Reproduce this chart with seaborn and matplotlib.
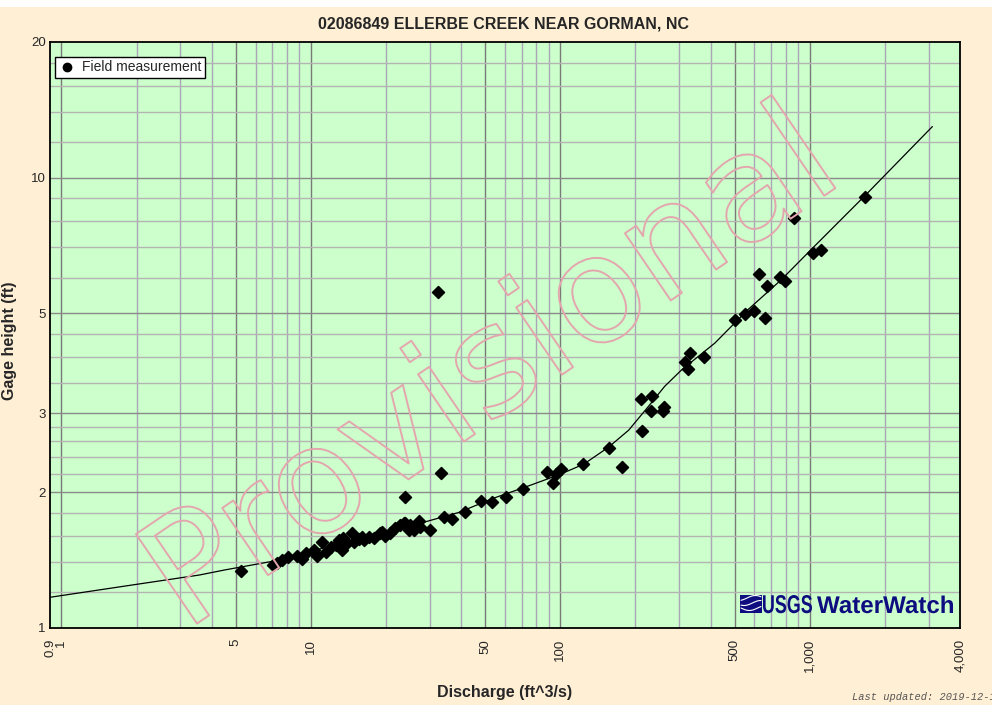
import numpy as np
import pandas as pd
import matplotlib
matplotlib.use("Agg")
import matplotlib.pyplot as plt
import matplotlib.patheffects as pe
import matplotlib.transforms as mtransforms
from matplotlib.lines import Line2D
from matplotlib.patches import Rectangle, PathPatch
from matplotlib.textpath import TextPath
from matplotlib.font_manager import FontProperties
from matplotlib.ticker import FixedLocator, NullFormatter, FixedFormatter
import seaborn as sns

sns.set_theme(style="white")
plt.rcParams['font.family'] = ['Liberation Sans', 'DejaVu Sans']

# ---------------- data ----------------
title = "02086849 ELLERBE CREEK NEAR GORMAN, NC"
x_label = "Discharge (ft^3/s)"
y_label = "Gage height (ft)"
legend_label = "Field measurement"
watermark = "Provisional"
updated = "Last updated: 2019-12-15"
logo_left = "USGS"
logo_right = "WaterWatch"

meas_discharge = [5.26, 7.05, 7.33, 7.68, 8.11, 8.81, 9.23, 9.52, 10.28, 10.6,
                  11.1, 11.45, 11.99, 12.56, 12.94, 13.34, 13.43, 13.97, 14.63, 14.86,
                  15.56, 16.04, 16.29, 17.06, 17.86, 19.0, 19.28, 19.89, 20.84, 21.82,
                  22.85, 23.55, 23.92, 24.66, 25.05, 25.82, 27.04, 27.47, 30.12, 34.04,
                  36.74, 41.57, 48.08, 53.46, 60.41, 70.66, 88.15, 93.16, 95.76, 100.3,
                  123.6, 23.92, 33.27, 32.21,
                  156.1, 177.0, 212.3, 211.5, 234.0, 231.8, 260.6, 258.2, 315.4, 324.3,
                  332.0, 377.7, 499.7, 548.0, 595.5, 662.5, 623.5, 674.8, 760.6, 792.0,
                  863.0, 1028.0, 1104.0, 1664.0]
meas_height = [1.339, 1.380, 1.397, 1.416, 1.440, 1.445, 1.421, 1.466, 1.491, 1.445,
               1.555, 1.478, 1.516, 1.529, 1.569, 1.491, 1.582, 1.543, 1.628, 1.555,
               1.575, 1.596, 1.569, 1.591, 1.582, 1.623, 1.637, 1.601, 1.623, 1.665,
               1.693, 1.709, 1.714, 1.651, 1.693, 1.651, 1.731, 1.679, 1.651, 1.767,
               1.747, 1.813, 1.915, 1.905, 1.958, 2.033, 2.225, 2.103, 2.196, 2.256,
               2.314, 1.958, 2.214, 5.58,
               2.516, 2.276, 2.744, 3.22, 3.27, 3.03, 3.09, 3.04, 3.89, 3.76,
               4.08, 3.99, 4.82, 4.98, 5.05, 4.87, 6.11, 5.75, 6.03, 5.88,
               8.14, 6.80, 6.89, 9.06]

curve_discharge = [0.9, 2.0, 3.57, 4.5, 6.9, 10, 15, 20, 27.5, 39, 54, 75, 99,
                   124, 156, 188, 225, 262, 306, 416, 565, 768, 1044, 1655, 3100]
curve_height = [1.17, 1.25, 1.311, 1.345, 1.404, 1.48, 1.568, 1.633, 1.709, 1.804,
                1.942, 2.07, 2.19, 2.31, 2.52, 2.75, 3.10, 3.44, 3.74, 4.29,
                5.09, 5.93, 7.04, 9.09, 12.98]

x_ticks = [0.9, 1, 5, 10, 50, 100, 500, 1000, 4000]
x_tick_labels = ["0.9", "1", "5", "10", "50", "100", "500", "1,000", "4,000"]
y_ticks = [1, 2, 3, 5, 10, 20]
y_tick_labels = ["1", "2", "3", "5", "10", "20"]

x_grid_mult = [1, 2, 3, 4, 5, 6, 7, 8, 9]
x_tick_mult = [1, 1.5, 2, 2.5, 3, 3.5, 4, 4.5, 5, 6, 7, 8, 9]
decades = [1, 10, 100, 1000]
y_grid = [1.2, 1.4, 1.6, 1.8, 2, 2.2, 2.4, 2.6, 2.8, 3, 3.5, 4, 4.5, 5,
          6, 7, 8, 9, 10, 12, 14, 16, 18]

meas = pd.DataFrame({"Q": meas_discharge, "H": meas_height})
curve = pd.DataFrame({"Q": curve_discharge, "H": curve_height})

# ---------------- figure ----------------
W, H = 992, 705
BG = "#ffefd5"
fig = plt.figure(figsize=(W / 100, H / 100), dpi=100, facecolor=BG)
fig.patches.append(Rectangle((0, 1 - 7 / H), 1, 7 / H, transform=fig.transFigure,
                             facecolor="white", edgecolor="none", zorder=0))
ax = fig.add_axes([50 / W, 1 - 628 / H, 910 / W, 586 / H])
ax.set_facecolor("#ccffcc")
ax.set_xscale("log")
ax.set_yscale("log")
ax.set_xlim(0.9, 4000)
ax.set_ylim(1, 20)

major_x = set([1, 5, 10, 50, 100, 500, 1000])
for d in decades:
    for m in x_grid_mult:
        v = d * m
        if v > 4000:
            continue
        if v in major_x:
            ax.axvline(v, color="#7a7a7a", lw=1.0, zorder=1)
        else:
            ax.axvline(v, color="#aaa6b6", lw=1.0, zorder=1)
for v in y_grid:
    if v in (2, 3, 5, 10):
        ax.axhline(v, color="#8a8a8a", lw=1.0, zorder=1)
    else:
        ax.axhline(v, color="#b4b4b4", lw=1.0, zorder=1)

sns.lineplot(data=curve, x="Q", y="H", ax=ax, color="black", lw=0.9,
             sort=False, estimator=None, zorder=4, legend=False)
sns.scatterplot(data=meas, x="Q", y="H", ax=ax, marker="D", s=36, color="black",
                edgecolor="black", linewidth=1.2, zorder=5, legend=False)

ax.xaxis.set_major_locator(FixedLocator(x_ticks))
ax.xaxis.set_major_formatter(FixedFormatter(x_tick_labels))
minor_x = [d * m for d in decades for m in x_tick_mult if d * m <= 4000]
ax.xaxis.set_minor_locator(FixedLocator(minor_x))
ax.xaxis.set_minor_formatter(NullFormatter())
ax.yaxis.set_major_locator(FixedLocator(y_ticks))
ax.yaxis.set_major_formatter(FixedFormatter(y_tick_labels))
ax.yaxis.set_minor_locator(FixedLocator(y_grid))
ax.yaxis.set_minor_formatter(NullFormatter())

ax.tick_params(axis="both", which="both", direction="in", length=5, width=1,
               color="black", top=False, right=False)
ax.tick_params(axis="x", which="major", labelsize=9.5, pad=8, labelrotation=90)
ax.tick_params(axis="y", which="major", labelsize=9.5, pad=3)
for lab in ax.get_xticklabels():
    lab.set_verticalalignment("top")
for s in ax.spines.values():
    s.set_color("black")
    s.set_linewidth(1.3)
    s.set_zorder(6)

ax.set_xlabel("")
ax.set_ylabel("")
fig.text(505 / W, 1 - 693 / H, x_label, ha="center", va="center",
         fontsize=11.5, fontweight="bold")
fig.text(10 / W, 1 - 341 / H, y_label, ha="center", va="center", rotation=90,
         fontsize=11.5, fontweight="bold")
fig.text(503 / W, 1 - 24 / H, title, ha="center", va="center",
         fontsize=11.5, fontweight="bold")

handle = Line2D([], [], marker="o", color="black", ls="none", markersize=6)
leg = ax.legend([handle], [legend_label], loc="upper left",
                bbox_to_anchor=(5 / 910, 1 - 15 / 586), frameon=True,
                fancybox=False, edgecolor="black", facecolor="white",
                framealpha=1, fontsize=10, borderpad=0.25, handletextpad=0.5,
                handlelength=1.2, borderaxespad=0)
leg.get_frame().set_linewidth(1.0)
leg.set_zorder(8)

# watermark
ax.text(516 / W, 1 - 406 / H, watermark, transform=fig.transFigure,
        rotation=34.3, rotation_mode="anchor", ha="center", va="baseline",
        fontsize=107, family="DejaVu Sans", color="none", zorder=7,
        path_effects=[pe.Stroke(linewidth=1.4, foreground="#e4a6ae")],
        clip_on=False)

# USGS WaterWatch logo
navy = "#0d0d80"
fig.patches.append(Rectangle((740 / W, 1 - 613 / H), 22 / W, 18 / H,
                             transform=fig.transFigure, facecolor=navy,
                             edgecolor="none", zorder=3))
for k, off in enumerate([0, 5, 10]):
    xs = np.linspace(741, 761, 20)
    ys = 608 - off + 2.5 * np.sin((xs - 741) / 20 * np.pi * 1.2 + k)
    fig.lines.append(Line2D(xs / W, 1 - ys / H, transform=fig.transFigure,
                            color="white", lw=0.8, zorder=4))


def fitted_text(s, x0, x1, ybase, height):
    fp = FontProperties(family="Liberation Sans", weight="bold")
    tp = TextPath((0, 0), s, size=100, prop=fp)
    ext = tp.get_extents()
    sx = (x1 - x0) / ext.width
    sy = height / (ext.y1 - max(ext.y0, 0))
    tr = mtransforms.Affine2D().translate(-ext.x0, 0).scale(sx, sy).translate(x0, H - ybase)
    patch = PathPatch(tp, transform=tr, facecolor=navy, edgecolor="none")
    fig.add_artist(patch)


fitted_text(logo_left, 763, 812, 613, 18)
fitted_text(logo_right, 817, 953, 613, 17.5)

fig.text(852 / W, 1 - 700 / H, updated, ha="left", va="baseline",
         fontsize=7.5, style="italic", color="#555555",
         family=["Liberation Mono", "DejaVu Sans Mono"])

fig.savefig("out.png", dpi=100, facecolor=BG)
